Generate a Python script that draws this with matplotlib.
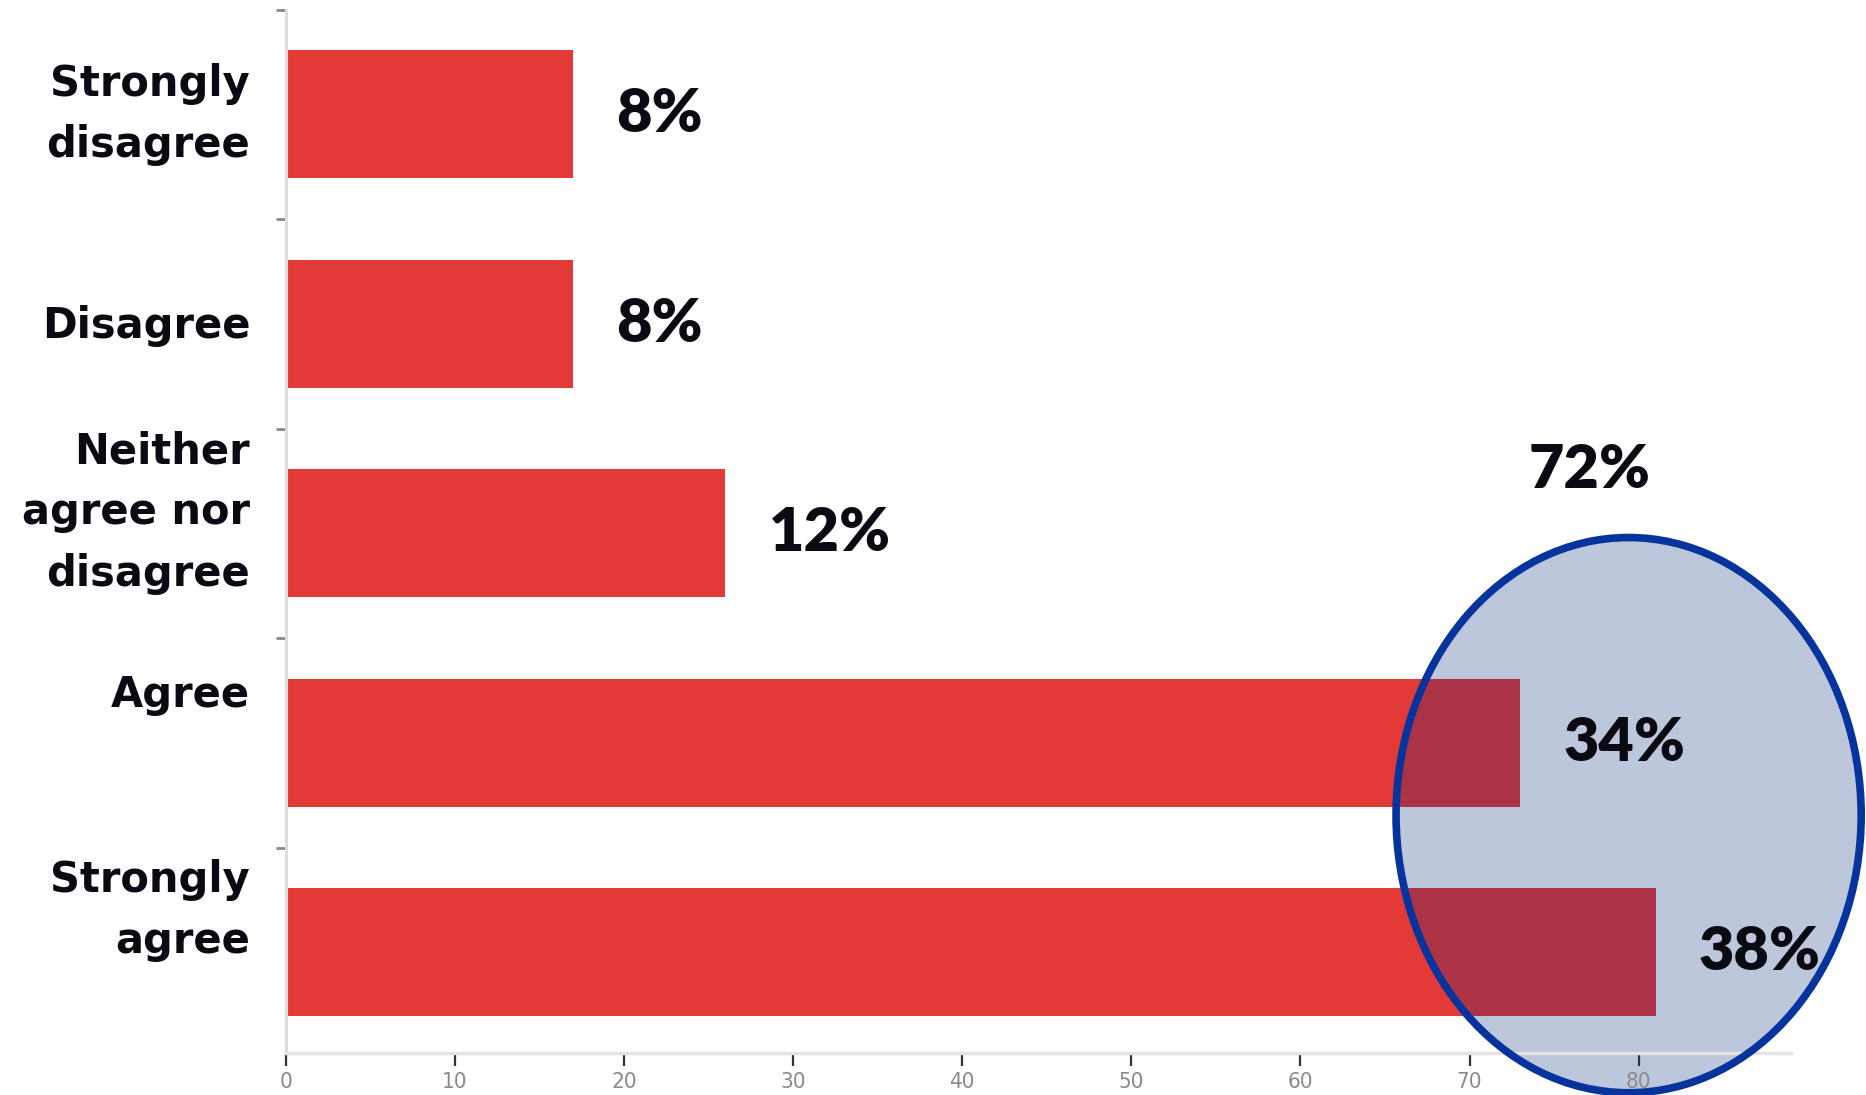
import matplotlib
matplotlib.use("Agg")
import matplotlib.pyplot as plt
from matplotlib.patches import Ellipse
import numpy as np

# Survey responses, top row first
categories = ["Strongly\ndisagree", "Disagree", "Neither\nagree nor\ndisagree", "Agree", "Strongly\nagree"]
counts = [17, 17, 26, 73, 81]
percents = [8, 8, 12, 34, 38]
x_ticks = [0, 10, 20, 30, 40, 50, 60, 70, 80]

RED = "#e43a37"
RED_IN_CIRCLE = "#ac3346"
CIRCLE_FILL = "#bcc7dc"
CIRCLE_EDGE = "#06339c"
TEXT = "#0a0a12"

# label centres drift a little from the bar centres
LABEL_Y = [0.0, 1.01, 1.90, 2.77, 3.80]

fig = plt.figure(figsize=(18.66, 10.95), dpi=100)
ax = fig.add_axes([0.1531, 0.0384, 0.8067, 0.9529])

y = np.arange(len(categories))
ax.barh(y, counts, height=0.61, color=RED, zorder=2)

# highlight ring around the two "agree" rows
ring_center = (79.4, 3.345)
ring_w, ring_h = 27.5, 2.65
ring = Ellipse(ring_center, ring_w, ring_h, facecolor=CIRCLE_FILL, edgecolor="none",
               zorder=1, clip_on=False)
ax.add_patch(ring)
overlay = ax.barh(y, counts, height=0.61, color=RED_IN_CIRCLE, zorder=3)
for bar in overlay:
    bar.set_clip_path(ring)
ax.add_patch(Ellipse(ring_center, ring_w, ring_h, fill=False, edgecolor=CIRCLE_EDGE,
                     lw=5.5, zorder=5, clip_on=False))

for yi, c, p in zip(y, counts, percents):
    ax.annotate(f"{p}%", xy=(c, yi), xytext=(31, 0), textcoords="offset points",
                ha="left", va="center", fontsize=44, fontweight="heavy",
                family="Lato", color=TEXT, zorder=6)

agree_total = percents[3] + percents[4]
ax.text(77.1, 1.70, f"{agree_total}%", ha="center", va="center", fontsize=44,
        fontweight="heavy", family="Lato", color=TEXT, zorder=6)

for ly, label in zip(LABEL_Y, categories):
    ax.text(-2.1, ly, label, ha="right", va="center", fontsize=30, fontweight="bold",
            family="DejaVu Sans", color=TEXT, linespacing=1.58)

ax.set_xlim(0, 89)
ax.set_ylim(4.48, -0.5)

ax.set_yticks([])
ax.set_yticks(np.arange(-0.5, 4.0, 1.0), minor=True)
ax.tick_params(axis="y", which="minor", length=7, width=2, color="#888888", direction="out")

ax.set_xticks(x_ticks)
ax.set_xticklabels([str(t) for t in x_ticks], family="DejaVu Sans",
                   fontsize=16, color="#8a8a8a", fontstretch="condensed")
ax.tick_params(axis="x", length=9, width=1.6, color="#333333", pad=5)

for side in ("top", "right"):
    ax.spines[side].set_visible(False)
ax.spines["bottom"].set_color("#e4e4e4")
ax.spines["bottom"].set_linewidth(2.5)
ax.spines["left"].set_color("#dddddd")
ax.spines["left"].set_linewidth(2.2)

fig.savefig("out.png", dpi=100)
